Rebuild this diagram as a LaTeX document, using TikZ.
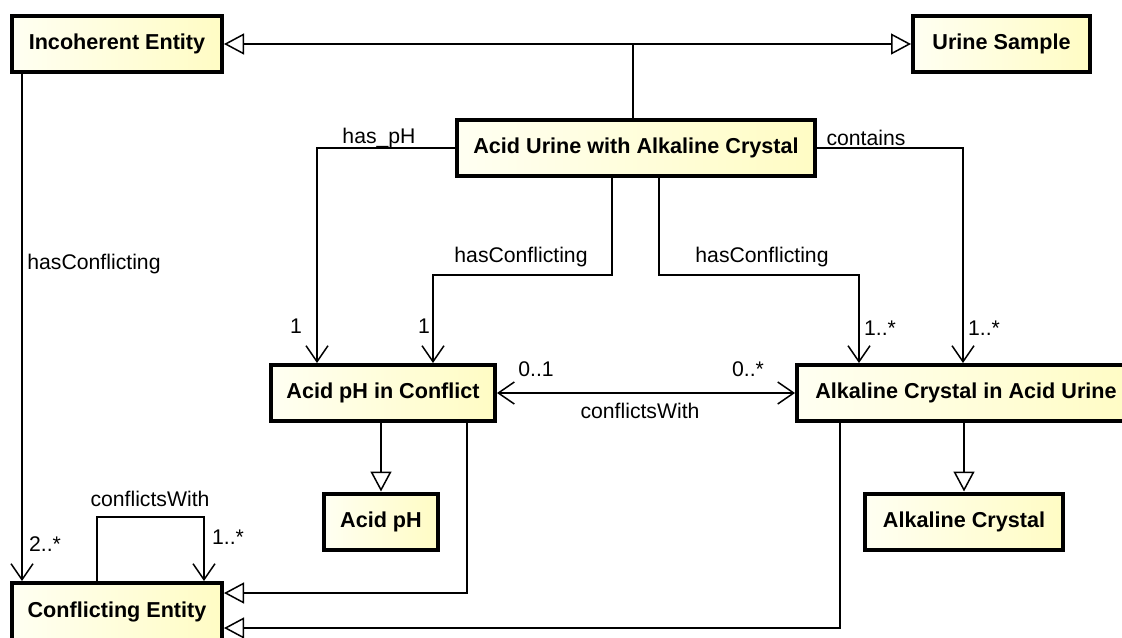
\documentclass[tikz,border=0pt]{standalone}
\usepackage{fontspec}
\setmainfont{Liberation Sans}
\usetikzlibrary{arrows.meta}
\definecolor{boxL}{RGB}{255,255,242}
\definecolor{boxR}{RGB}{255,252,196}
\begin{document}
\begin{tikzpicture}[x=0.5pt,y=-0.5pt,
  font=\fontsize{10.6}{12}\selectfont,
  cls/.style={draw, line width=2pt, left color=boxL, right color=boxR,
    font=\fontsize{10.8}{12}\selectfont\bfseries, inner sep=0pt, minimum height=28pt},
  conn/.style={line width=0.75pt},
  gen/.style={conn, -{Triangle[open,length=10pt,width=10.5pt,line width=0.75pt]}},
  assoc/.style={conn, -{Straight Barb[length=8pt,width=11pt,line width=0.75pt]}},
  bi/.style={conn, {Straight Barb[length=8pt,width=11pt,line width=0.75pt]}-{Straight Barb[length=8pt,width=11pt,line width=0.75pt]}},
  lbl/.style={inner sep=0pt}]
\useasboundingbox (0,0) rectangle (1122,637);
% classes
\node[cls, minimum width=105pt] (IE) at (117,44) {Incoherent Entity};
\node[cls, minimum width=88.5pt] (US) at (1001.5,44) {Urine Sample};
\node[cls, minimum width=179pt] (AU) at (636,148) {Acid Urine with Alkaline Crystal};
\node[cls, minimum width=112pt] (APC) at (383,393) {Acid pH in Conflict};
\node[cls, minimum width=169pt] (ACAU) at (966,393) {Alkaline Crystal in Acid Urine};
\node[cls, minimum width=57pt] (AP) at (381,521.5) {Acid pH};
\node[cls, minimum width=99pt] (AC) at (964,521.5) {Alkaline Crystal};
\node[cls, minimum width=105pt, minimum height=29pt] (CE) at (117,612) {Conflicting Entity};
% generalisation of Acid Urine with Alkaline Crystal
\coordinate (g) at (633,44);
\draw[conn] (g |- AU.north) -- (g);
\draw[gen] (g) -- (IE.east);
\draw[gen] (g) -- (US.west);
% has_pH
\coordinate (hp) at (317,148);
\draw[assoc] (AU.west) -- (hp) -- (hp |- APC.north);
\node[lbl] (lhp) at (379,138) {has\_pH};
\node[lbl] (m1) at (296,326) {1};
% hasConflicting (to Acid pH in Conflict)
\coordinate (ha) at (612,275);
\coordinate (hb) at (433,275);
\draw[assoc] (ha |- AU.south) -- (ha) -- (hb) -- (hb |- APC.north);
\node[lbl] (lhc1) at (521,257) {hasConflicting};
\node[lbl] (m2) at (424,326) {1};
% hasConflicting (to Alkaline Crystal in Acid Urine)
\coordinate (hc) at (659,275);
\coordinate (hd) at (859,275);
\draw[assoc] (hc |- AU.south) -- (hc) -- (hd) -- (hd |- ACAU.north);
\node[lbl] (lhc2) at (762,257) {hasConflicting};
\node[lbl] (m3) at (880,328) {1..*};
% contains
\coordinate (ct) at (963,148);
\draw[assoc] (AU.east) -- (ct) -- (ct |- ACAU.north);
\node[lbl] (lct) at (866,138) {contains};
\node[lbl] (m4) at (984,328) {1..*};
% conflictsWith between the two
\draw[bi] (APC.east) -- (ACAU.west);
\node[lbl] (lcw) at (640,411) {conflictsWith};
\node[lbl] (m5) at (536,369) {0..1};
\node[lbl] (m6) at (748,369) {0..*};
% specialisations
\draw[gen] (APC.south -| AP.north) -- (AP.north);
\draw[gen] (ACAU.south -| AC.north) -- (AC.north);
\coordinate (k1) at (467,593);
\draw[gen] (k1 |- APC.south) -- (k1) -- (k1 -| CE.east);
\coordinate (k2) at (840,628);
\draw[gen] (k2 |- ACAU.south) -- (k2) -- (k2 -| CE.east);
% hasConflicting Incoherent -> Conflicting
\coordinate (ic) at (22,300);
\draw[assoc] (IE.south -| ic) -- (CE.north -| ic);
\node[lbl, anchor=west] (lhc3) at (27,264) {hasConflicting};
\node[lbl] (m7) at (45,544) {2..*};
% self loop
\coordinate (sa) at (97,517);
\coordinate (sb) at (204,517);
\draw[assoc] (sa |- CE.north) -- (sa) -- (sb) -- (sb |- CE.north);
\node[lbl] (lsl) at (150,499) {conflictsWith};
\node[lbl] (m8) at (228,537) {1..*};
\end{tikzpicture}
\end{document}
